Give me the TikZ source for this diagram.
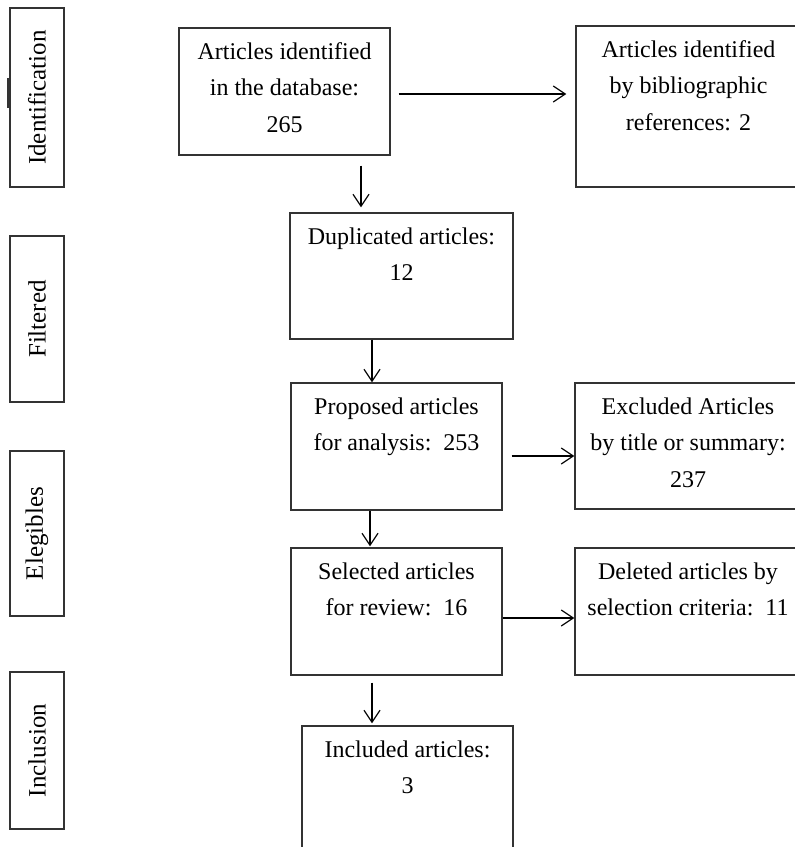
\documentclass[tikz,border=0pt]{standalone}
\usepackage{fontspec}
\setmainfont{Liberation Serif}
\usepackage{tikz}
\usetikzlibrary{arrows.meta}

\newcommand{\boxtxt}[3]{\parbox[c][#2][t]{#1}{\centering\fontsize{12}{18.25}\selectfont\rule{0pt}{15.5pt}#3}}

\begin{document}
\begin{tikzpicture}[x=0.5pt, y=-0.5pt,
  flowbox/.style = {draw=black!80, line width=0.7pt, inner sep=0pt},
  sidebox/.style = {draw=black!80, line width=0.7pt, inner sep=0pt, rotate=90,
                    minimum height=27pt, font=\fontsize{12.5}{15}\selectfont},
  arr/.style = {line width=0.6pt, -{Straight Barb[length=6pt,width=8pt]}}]
\useasboundingbox (0,0) rectangle (795,847);
\clip (0,0) rectangle (795,847);

% stages on the left
\node[sidebox, minimum width=89.5pt] (stid) at (37,97.5) {Identification};
\node[sidebox, minimum width=83pt] (stfilt) at (37,319) {Filtered};
\node[sidebox, minimum width=82.5pt] (stelig) at (37,533.5) {Elegibles};
\node[sidebox, minimum width=78.5pt] (stincl) at (37,750.5) {Inclusion};
\draw[line width=0.7pt, black!80] (10,79) -- (8,79) -- (8,107) -- (10,107);

% main column
\node[flowbox] (db) at (284.5,91.5) {\boxtxt{105.5pt}{63.5pt}{Articles identified\\ in the database:\\ 265}};
\node[flowbox] (dup) at (401.5,276) {\boxtxt{111.5pt}{63pt}{Duplicated articles:\\ 12}};
\node[flowbox] (prop) at (396.5,446.5) {\boxtxt{105.5pt}{63.5pt}{Proposed articles\\ for analysis:\ \ 253}};
\node[flowbox] (sel) at (396.5,611.5) {\boxtxt{105.5pt}{63.5pt}{Selected articles\\ for review:\ \ 16}};
\node[flowbox] (incl) at (407.5,791) {\boxtxt{105.5pt}{65pt}{Included articles:\\ 3}};

% right column
\node[flowbox] (bib) at (688.5,106.5) {\boxtxt{112.5pt}{80.5pt}{Articles identified\\ by bibliographic\\ references: 2}};
\node[flowbox] (excl) at (688,446) {\boxtxt{113pt}{63pt}{Excluded Articles\\ by title or summary:\\ 237}};
\node[flowbox] (del) at (688,611.5) {\boxtxt{113pt}{63.5pt}{Deleted articles by\\ selection criteria:\ \ 11}};

% arrows
\draw[arr, shorten <=4pt, shorten >=4.5pt] ([yshift=-1.25pt]db.east) -- ([yshift=-1.25pt]db.east -| bib.west);
\draw[arr, shorten <=5pt, shorten >=2.5pt] ([xshift=38.25pt]db.south) -- ([xshift=38.25pt]db.south |- dup.north);
\draw[arr] ([xshift=-14.75pt]dup.south) -- ([xshift=-14.75pt]dup.south |- prop.north);
\draw[arr, shorten <=4.5pt] ([yshift=-4.75pt]prop.east) -- ([yshift=-4.75pt]prop.east -| excl.west);
\draw[arr, shorten >=0.5pt] ([xshift=-13.25pt]prop.south) -- ([xshift=-13.25pt]prop.south |- sel.north);
\draw[arr] ([yshift=-3.25pt]sel.east) -- ([yshift=-3.25pt]sel.east -| del.west);
\draw[arr, shorten <=3.5pt, shorten >=1pt] ([xshift=-12.25pt]sel.south) -- ([xshift=-12.25pt]sel.south |- incl.north);
\end{tikzpicture}
\end{document}
